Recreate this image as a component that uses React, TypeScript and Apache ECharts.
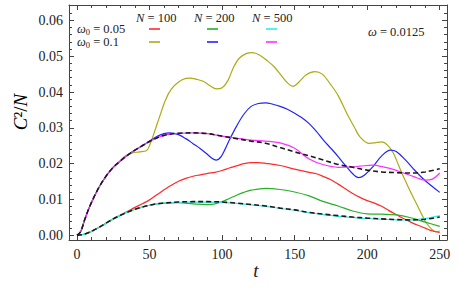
import React, { useEffect, useRef } from "react";
import * as echarts from "echarts";

type P = [number, number];

// ω0 = 0.1, large-N limit (black dashed)
const upperDashed: P[] = [
  [0, 0], [2.5, 0.001], [5, 0.004], [7.5, 0.0068], [10, 0.0092], [15, 0.0133], [20, 0.0165],
  [25, 0.019], [30, 0.0208], [35, 0.0224], [40, 0.0238], [45, 0.025], [50, 0.0262], [55, 0.0272],
  [60, 0.0279], [65, 0.0283], [70, 0.0285], [80, 0.0286], [90, 0.0284], [100, 0.0277], [110, 0.027],
  [120, 0.0263], [130, 0.0257], [140, 0.0245], [150, 0.0233], [160, 0.0222], [170, 0.021],
  [180, 0.0198], [190, 0.019], [200, 0.0182], [210, 0.0177], [220, 0.0175], [230, 0.0174],
  [240, 0.0177], [250, 0.0186],
];

// ω0 = 0.05, large-N limit (black dashed)
const lowerDashed: P[] = [
  [0, 0], [5, 0.0003], [10, 0.0011], [15, 0.0022], [20, 0.0034], [25, 0.0046], [30, 0.0056],
  [35, 0.0065], [40, 0.0073], [45, 0.0079], [50, 0.0084], [55, 0.0088], [60, 0.009], [70, 0.0093],
  [80, 0.0094], [90, 0.0094], [100, 0.0093], [110, 0.009], [120, 0.0086], [130, 0.0082],
  [140, 0.0076], [150, 0.0071], [160, 0.0064], [170, 0.0059], [180, 0.0055], [190, 0.0051],
  [200, 0.0048], [210, 0.0046], [220, 0.0044], [230, 0.0043], [240, 0.0045], [250, 0.0051],
];

// ω0 = 0.05
const n100w005: P[] = [
  [0, 0], [5, 0.0003], [10, 0.0011], [15, 0.0022], [20, 0.0034], [25, 0.0046], [30, 0.0057],
  [35, 0.0067], [40, 0.0078], [45, 0.0088], [50, 0.0099], [55, 0.0113], [60, 0.0127], [65, 0.014],
  [70, 0.0151], [75, 0.0159], [80, 0.0165], [85, 0.0169], [90, 0.0173], [95, 0.0176], [100, 0.0181],
  [105, 0.0188], [110, 0.0194], [115, 0.02], [120, 0.0203], [125, 0.0203], [130, 0.0201],
  [140, 0.0195], [150, 0.0185], [160, 0.0176], [165, 0.0172], [170, 0.0164], [175, 0.0155],
  [180, 0.0143], [185, 0.013], [190, 0.0117], [195, 0.0106], [200, 0.0097], [205, 0.009],
  [210, 0.0081], [215, 0.0069], [220, 0.0058], [225, 0.0047], [230, 0.0037], [235, 0.0028],
  [240, 0.002], [245, 0.0012], [250, 0.0008],
];
const n200w005: P[] = [
  [0, 0], [5, 0.0003], [10, 0.0011], [15, 0.0022], [20, 0.0034], [25, 0.0046], [30, 0.0056],
  [35, 0.0065], [40, 0.0073], [45, 0.0079], [50, 0.0084], [55, 0.0088], [60, 0.009], [70, 0.0091],
  [80, 0.0088], [90, 0.0086], [95, 0.0088], [100, 0.0094], [105, 0.0103], [110, 0.0112],
  [115, 0.012], [120, 0.0126], [130, 0.0131], [140, 0.0128], [150, 0.0121], [160, 0.011],
  [170, 0.0094], [180, 0.0082], [190, 0.0068], [200, 0.006], [210, 0.0059], [220, 0.0057],
  [230, 0.0049], [240, 0.0037], [250, 0.0025],
];
const n500w005: P[] = [
  [0, 0], [5, 0.0003], [10, 0.0011], [15, 0.0022], [20, 0.0034], [25, 0.0046], [30, 0.0056],
  [35, 0.0065], [40, 0.0073], [45, 0.0079], [50, 0.0084], [55, 0.0088], [60, 0.009], [70, 0.0092],
  [80, 0.0093], [90, 0.0093], [100, 0.0092], [110, 0.0089], [120, 0.0085], [130, 0.0081],
  [140, 0.0075], [150, 0.007], [160, 0.0063], [170, 0.0058], [180, 0.0053], [190, 0.005],
  [200, 0.0047], [210, 0.0045], [220, 0.0043], [230, 0.0043], [240, 0.0047], [250, 0.0055],
];

// ω0 = 0.1
const n100w01: P[] = [
  [0, 0], [2.5, 0.001], [5, 0.004], [7.5, 0.0068], [10, 0.0092], [15, 0.0133], [20, 0.0165],
  [25, 0.019], [30, 0.0208], [33, 0.0221], [38, 0.023], [43, 0.0233], [48, 0.0237], [50, 0.0251],
  [53, 0.0284], [57, 0.0332], [61, 0.0378], [65, 0.0408], [70, 0.0428], [75, 0.0438], [78, 0.0439],
  [82, 0.0436], [87, 0.043], [92, 0.0417], [96, 0.0409], [100, 0.0412], [104, 0.0432],
  [108, 0.047], [112, 0.0495], [117, 0.0508], [121, 0.051], [126, 0.0503], [131, 0.0488],
  [136, 0.047], [141, 0.0445], [146, 0.0422], [149, 0.0416], [153, 0.0428], [158, 0.0448],
  [164, 0.0457], [169, 0.045], [175, 0.042], [180, 0.039], [186, 0.034], [191, 0.0303],
  [195, 0.0275], [201, 0.0257], [205, 0.0258], [210, 0.0261], [214, 0.0252], [218, 0.023],
  [222, 0.0192], [226, 0.0155], [230, 0.012], [234, 0.0088], [238, 0.0055], [241, 0.0033],
  [245, 0.0015], [248, 0.001], [250, 0.0012],
];
const n200w01: P[] = [
  [0, 0], [2.5, 0.001], [5, 0.004], [7.5, 0.0068], [10, 0.0092], [15, 0.0133], [20, 0.0165],
  [25, 0.019], [30, 0.0208], [35, 0.0224], [40, 0.0238], [45, 0.025], [50, 0.0263], [55, 0.0276],
  [60, 0.0284], [64, 0.0286], [70, 0.0281], [75, 0.027], [80, 0.0256], [85, 0.0242], [89, 0.0229],
  [93, 0.0215], [96, 0.021], [99, 0.0218], [102, 0.024], [105, 0.0266], [110, 0.0305],
  [115, 0.0338], [120, 0.036], [125, 0.0368], [130, 0.037], [135, 0.0366], [140, 0.036],
  [145, 0.0352], [150, 0.0341], [155, 0.0328], [160, 0.0312], [165, 0.029], [170, 0.0265],
  [175, 0.0243], [180, 0.022], [185, 0.0195], [190, 0.0172], [194, 0.0161], [198, 0.0168],
  [204, 0.0192], [210, 0.0222], [216, 0.0238], [220, 0.0234], [226, 0.0212], [232, 0.0185],
  [238, 0.016], [244, 0.0139], [250, 0.012],
];
const n500w01: P[] = [
  [0, 0], [2.5, 0.001], [5, 0.004], [7.5, 0.0068], [10, 0.0092], [15, 0.0133], [20, 0.0165],
  [25, 0.019], [30, 0.0208], [35, 0.0224], [40, 0.0238], [45, 0.025], [50, 0.0262], [55, 0.0272],
  [60, 0.0279], [65, 0.0283], [70, 0.0285], [80, 0.0286], [90, 0.0284], [100, 0.0277],
  [110, 0.0271], [120, 0.0266], [130, 0.0263], [140, 0.0258], [150, 0.0243], [160, 0.0213],
  [170, 0.0197], [180, 0.019], [190, 0.0191], [195, 0.0193], [204, 0.0196], [211, 0.0191],
  [218, 0.0184], [225, 0.0174], [232, 0.0164], [240, 0.0154], [245, 0.0157], [250, 0.0174],
];

const xMajor = [0, 50, 100, 150, 200, 250];
const xMinor = [10, 20, 30, 40, 60, 70, 80, 90, 110, 120, 130, 140, 160, 170, 180, 190, 210, 220, 230, 240];
const yMajor = [0, 0.01, 0.02, 0.03, 0.04, 0.05, 0.06];
const yMinor = [0.002, 0.004, 0.006, 0.008, 0.012, 0.014, 0.016, 0.018, 0.022, 0.024, 0.026, 0.028,
  0.032, 0.034, 0.036, 0.038, 0.042, 0.044, 0.046, 0.048, 0.052, 0.054, 0.056, 0.058, 0.062];

const nLabels = ["100", "200", "500"];
const w0Labels = ["0.05", "0.1"];
const omegaLabel = "0.0125";

const COLORS = {
  red: "#ff2a2a",
  yellow: "#abab12",
  green: "#28b028",
  blue: "#2222ff",
  cyan: "#2eeeee",
  magenta: "#ff30ff",
};

const SERIF = "'Liberation Serif', 'Times New Roman', serif";
const FRAME = "#444";
const X_MIN = -5.5, X_MAX = 255, Y_MIN = -0.0013, Y_MAX = 0.0643;

function axisX(position: "top" | "bottom", values: number[], len: number, labels: boolean, line: boolean) {
  return {
    type: "value", position, min: X_MIN, max: X_MAX,
    axisLine: { show: line, onZero: false, lineStyle: { color: FRAME, width: 1 } },
    axisTick: { show: true, inside: true, length: len, customValues: values, lineStyle: { color: FRAME } },
    axisLabel: labels
      ? { show: true, customValues: values, fontFamily: SERIF, fontSize: 14, color: "#222", margin: 7 }
      : { show: false },
    splitLine: { show: false },
  };
}
function axisY(position: "left" | "right", values: number[], len: number, labels: boolean, line: boolean) {
  return {
    type: "value", position, min: Y_MIN, max: Y_MAX,
    axisLine: { show: line, onZero: false, lineStyle: { color: FRAME, width: 1 } },
    axisTick: { show: true, inside: true, length: len, customValues: values, lineStyle: { color: FRAME } },
    axisLabel: labels
      ? { show: true, customValues: values, fontFamily: SERIF, fontSize: 14, color: "#222", margin: 6,
          formatter: (v: number) => v.toFixed(2) }
      : { show: false },
    splitLine: { show: false },
  };
}

function line(data: P[], color: string, z = 2) {
  return {
    type: "line", data, smooth: 0.35, showSymbol: false, symbol: "none", z,
    lineStyle: { color, width: 1.2 }, xAxisIndex: 0, yAxisIndex: 0,
  };
}
function dashed(data: P[]) {
  return {
    type: "line", data, smooth: 0.35, showSymbol: false, symbol: "none", z: 5,
    lineStyle: { color: "#1a1a1a", width: 1.6, type: [5, 3] }, xAxisIndex: 0, yAxisIndex: 0,
  };
}

const legendText = { fontFamily: SERIF, fontSize: 12.5, fill: "#222" };
const rich = {
  i: { fontFamily: SERIF, fontSize: 12.5, fontStyle: "italic", color: "#222" },
  r: { fontFamily: SERIF, fontSize: 12.5, color: "#222" },
  s: { fontFamily: SERIF, fontSize: 8.5, color: "#222", verticalAlign: "bottom", padding: [6, 0, 0, 0] },
};

export default function App() {
  const ref = useRef<HTMLDivElement>(null);
  useEffect(() => {
    if (!ref.current) return;
    const chart = echarts.init(ref.current, null, { renderer: "svg" });
    const nX = [136, 194, 252];
    const swX = [149, 207, 266];
    const row1 = [COLORS.red, COLORS.green, COLORS.cyan];
    const row2 = [COLORS.yellow, COLORS.blue, COLORS.magenta];
    const graphics: any[] = [];
    nLabels.forEach((n, k) => {
      graphics.push({
        type: "text", left: nX[k], top: 11,
        style: { ...legendText, text: `{i|N}{r| = ${n}}`, rich },
      });
      graphics.push({ type: "line", shape: { x1: swX[k], y1: 29, x2: swX[k] + 11, y2: 29 },
        style: { stroke: row1[k], lineWidth: 1.6 } });
      graphics.push({ type: "line", shape: { x1: swX[k], y1: 42, x2: swX[k] + 11, y2: 42 },
        style: { stroke: row2[k], lineWidth: 1.6 } });
    });
    w0Labels.forEach((w, k) => {
      graphics.push({
        type: "text", left: 77, top: 22 + k * 13,
        style: { ...legendText, text: `{i|ω}{s|0}{r| = ${w}}`, rich },
      });
    });
    graphics.push({
      type: "text", left: 368, top: 25,
      style: { ...legendText, text: `{i|ω}{r| = ${omegaLabel}}`, rich },
    });
    graphics.push({
      type: "text", x: 20, y: 112, rotation: Math.PI / 2,
      style: {
        text: "{i|C}{r|²/}{i|N}", align: "center", verticalAlign: "middle",
        rich: {
          i: { fontFamily: SERIF, fontSize: 19, fontStyle: "italic", color: "#222" },
          r: { fontFamily: SERIF, fontSize: 19, color: "#222" },
        },
      },
    });
    graphics.push({
      type: "text", x: 256, y: 270,
      style: { text: "t", fontFamily: SERIF, fontSize: 19, fontStyle: "italic", fill: "#222",
        align: "center", verticalAlign: "middle" },
    });

    chart.setOption({
      animation: false,
      backgroundColor: "#fff",
      grid: { left: 69, right: 12, top: 5, bottom: 46, containLabel: false },
      xAxis: [
        axisX("bottom", xMajor, 5, true, true),
        axisX("bottom", xMinor, 3, false, false),
        axisX("top", xMajor, 5, false, true),
        axisX("top", xMinor, 3, false, false),
      ],
      yAxis: [
        axisY("left", yMajor, 5, true, true),
        axisY("left", yMinor, 3, false, false),
        axisY("right", yMajor, 5, false, true),
        axisY("right", yMinor, 3, false, false),
      ],
      series: [
        line(n100w01, COLORS.yellow),
        line(n200w01, COLORS.blue),
        line(n500w01, COLORS.magenta, 3),
        line(n100w005, COLORS.red),
        line(n200w005, COLORS.green),
        line(n500w005, COLORS.cyan, 3),
        dashed(upperDashed),
        dashed(lowerDashed),
      ],
      graphic: graphics,
    });
    return () => chart.dispose();
  }, []);
  return (
    <div ref={ref} style={{ position: "fixed", left: 0, top: 0, width: 459, height: 286, background: "#fff" }} />
  );
}
